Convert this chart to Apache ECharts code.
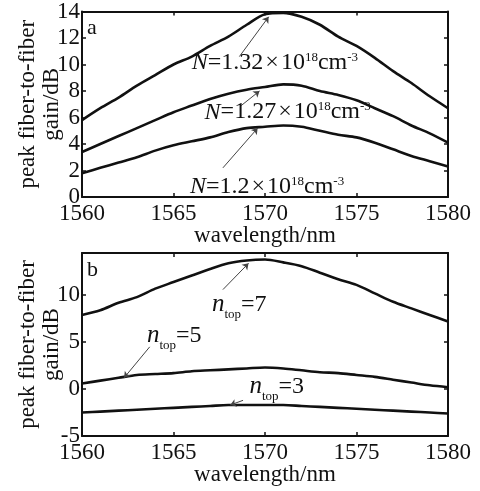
<!DOCTYPE html>
<html>
<head>
<meta charset="utf-8">
<script src="https://cdn.jsdelivr.net/npm/echarts@6/dist/echarts.min.js"></script>
<style>
  html, body { margin: 0; padding: 0; background: #fff; }
  #chart { width: 480px; height: 491px; }
</style>
</head>
<body>
<div id="chart"></div>
<script>
// wavelength grid (nm)
var wavelength = [1560, 1561, 1562, 1563, 1564, 1565, 1566, 1567, 1568, 1569, 1570,
  1571, 1572, 1573, 1574, 1575, 1576, 1577, 1578, 1579, 1580];

// panel a: carrier density
var gainN132 = [5.8, 6.7, 7.5, 8.4, 9.2, 10.0, 10.6, 11.4, 12.1, 13.0, 13.8,
  13.9, 13.6, 13.0, 12.1, 11.4, 10.5, 9.5, 8.6, 7.6, 6.7];
var gainN127 = [3.4, 4.0, 4.6, 5.2, 5.8, 6.4, 6.9, 7.4, 7.8, 8.1, 8.3,
  8.5, 8.4, 8.0, 7.7, 7.3, 6.7, 6.1, 5.4, 4.8, 4.1];
var gainN120 = [1.8, 2.2, 2.6, 3.0, 3.5, 3.9, 4.2, 4.5, 4.9, 5.2, 5.3,
  5.4, 5.3, 5.0, 4.7, 4.5, 4.1, 3.6, 3.1, 2.7, 2.3];

// panel b: number of top layers
var gainTop7 = [7.9, 8.4, 9.2, 9.8, 10.7, 11.4, 12.1, 12.8, 13.4, 13.7, 13.8,
  13.5, 13.1, 12.4, 11.7, 11.1, 10.2, 9.3, 8.6, 7.9, 7.2];
var gainTop5 = [0.6, 0.9, 1.2, 1.5, 1.6, 1.7, 1.9, 2.0, 2.1, 2.2, 2.3,
  2.2, 2.0, 1.8, 1.7, 1.5, 1.3, 1.0, 0.7, 0.4, 0.2];
var gainTop3 = [-2.5, -2.4, -2.3, -2.2, -2.1, -2.0, -1.9, -1.8, -1.7, -1.7, -1.7,
  -1.7, -1.8, -1.9, -2.0, -2.1, -2.2, -2.3, -2.4, -2.5, -2.6];

var xTicks = [1560, 1565, 1570, 1575, 1580];
var yTicksA = [0, 2, 4, 6, 8, 10, 12, 14];
var yTicksB = [-5, 0, 5, 10];

var serif = "'Liberation Serif', 'Times New Roman', serif";
var black = '#111';

function pairs(ys) {
  return wavelength.map(function (x, i) { return [x, ys[i]]; });
}

var richN = {
  i: { fontFamily: serif, fontSize: 24, fontStyle: 'italic', color: black },
  t: { fontFamily: serif, fontSize: 24, color: black },
  x: { fontFamily: serif, fontSize: 24, color: black, padding: [0, 2, 0, 2] },
  s: { fontFamily: serif, fontSize: 13, color: black, verticalAlign: 'top', lineHeight: 12 }
};
var richTop = {
  i: { fontFamily: serif, fontSize: 25, fontStyle: 'italic', color: black },
  t: { fontFamily: serif, fontSize: 24, color: black },
  sub: { fontFamily: serif, fontSize: 13, color: black, padding: [20, 0, 0, 0] }
};

// label anchor (left edge, vertical centre) and leader line, in data units
function note(text, rich, at, from, to) {
  return {
    markPoint: {
      silent: true, animation: false, symbol: 'circle', symbolSize: 0,
      label: { show: true, position: 'right', distance: 0, formatter: text, rich: rich },
      data: [{ coord: at }]
    },
    markLine: {
      silent: true, animation: false,
      symbol: ['none', 'arrow'], symbolSize: 6,
      label: { show: false },
      lineStyle: { color: '#444', width: 1, type: 'solid' },
      data: [[{ coord: from }, { coord: to }]]
    }
  };
}

function curve(name, ys, gi, extra) {
  var s = {
    name: name, type: 'line', xAxisIndex: gi * 2, yAxisIndex: gi * 2,
    data: pairs(ys), showSymbol: false, smooth: 0.3,
    lineStyle: { color: black, width: 2.6 }, animation: false
  };
  for (var k in extra) s[k] = extra[k];
  return s;
}

function xAxes(gi) {
  var base = {
    type: 'value', gridIndex: gi, min: 1560, max: 1580, interval: 5,
    axisLine: { show: true, onZero: false, lineStyle: { color: black, width: 2 } },
    axisTick: { show: true, inside: true, length: 4, lineStyle: { color: black, width: 1.5 } },
    splitLine: { show: false }
  };
  var bottom = Object.assign({}, base, {
    position: 'bottom',
    name: 'wavelength/nm', nameLocation: 'middle', nameGap: 27, nameMoveOverlap: false,
    nameTextStyle: { fontFamily: serif, fontSize: 23, color: black },
    axisLabel: { show: true, margin: 5, fontFamily: serif, fontSize: 23, color: black,
      customValues: xTicks, formatter: function (v) { return String(v); } }
  });
  var top = Object.assign({}, base, { position: 'top', axisLabel: { show: false } });
  return [bottom, top];
}

function yAxes(gi, min, max, ticks) {
  var base = {
    type: 'value', gridIndex: gi, min: min, max: max,
    axisLine: { show: true, onZero: false, lineStyle: { color: black, width: 2 } },
    axisTick: { show: true, inside: true, length: 4, customValues: ticks,
      lineStyle: { color: black, width: 1.5 } },
    splitLine: { show: false }
  };
  var left = Object.assign({}, base, {
    position: 'left',
    name: 'peak fiber-to-fiber\ngain/dB', nameLocation: 'middle', nameGap: 18, nameRotate: 90,
    nameMoveOverlap: false,
    nameTextStyle: { fontFamily: serif, fontSize: 23, color: black, lineHeight: 24 },
    axisLabel: { show: true, margin: 2, fontFamily: serif, fontSize: 23, color: black,
      customValues: ticks }
  });
  var right = Object.assign({}, base, { position: 'right', axisLabel: { show: false } });
  return [left, right];
}

var chart = echarts.init(document.getElementById('chart'), null, { renderer: 'canvas' });

chart.setOption({
  backgroundColor: '#fff',
  animation: false,
  grid: [
    { left: 82, top: 10, width: 366, height: 187 },
    { left: 82, top: 253, width: 366, height: 183 }
  ],
  xAxis: xAxes(0).concat(xAxes(1)),
  yAxis: yAxes(0, 0, 14, yTicksA).concat(yAxes(1, -5, 14.5, yTicksB)),
  graphic: [
    { type: 'text', left: 87, top: 17, style: { text: 'a', font: '22px ' + serif, fill: black } },
    { type: 'text', left: 87, top: 259, style: { text: 'b', font: '22px ' + serif, fill: black } }
  ],
  series: [
    curve('N=1.32', gainN132, 0, note('{i|N}{t|=1.32}{x|×}{t|10}{s|18}{t|cm}{s|-3}', richN,
      [1566.0, 10.1], [1568.6, 10.6], [1570.2, 13.6])),
    curve('N=1.27', gainN127, 0, note('{i|N}{t|=1.27}{x|×}{t|10}{s|18}{t|cm}{s|-3}', richN,
      [1566.7, 6.4], [1568.7, 6.9], [1569.7, 8.0])),
    curve('N=1.2', gainN120, 0, note('{i|N}{t|=1.2}{x|×}{t|10}{s|18}{t|cm}{s|-3}', richN,
      [1565.9, 0.75], [1567.7, 2.2], [1569.6, 5.2])),
    curve('ntop=7', gainTop7, 1, note('{i|n}{sub|top}{t|=7}', richTop,
      [1567.1, 9.0], [1567.7, 10.6], [1569.1, 13.4])),
    curve('ntop=5', gainTop5, 1, note('{i|n}{sub|top}{t|=5}', richTop,
      [1563.55, 5.7], [1563.7, 4.5], [1562.3, 1.2])),
    curve('ntop=3', gainTop3, 1, note('{i|n}{sub|top}{t|=3}', richTop,
      [1569.15, 0.3], [1568.8, -1.2], [1568.1, -1.7]))
  ]
});
</script>
</body>
</html>
